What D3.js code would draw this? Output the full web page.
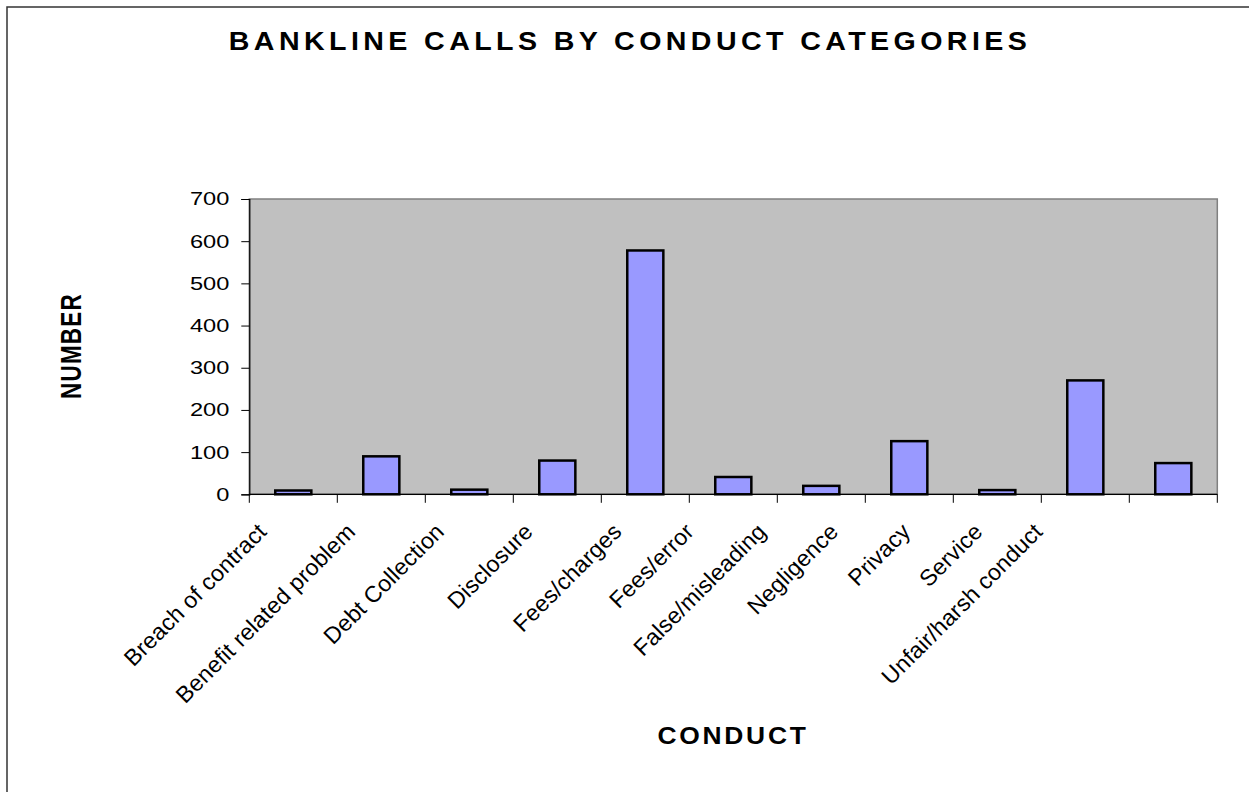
<!DOCTYPE html>
<html>
<head>
<meta charset="utf-8">
<title>Bankline calls by conduct categories</title>
<script src="https://d3js.org/d3.v7.min.js"></script>
<style>
  body { margin: 0; background: #fff; }
  text { font-family: "Liberation Sans", Arial, sans-serif; fill: #000; }
</style>
</head>
<body>
<div id="chart"></div>
<script>
// data
const categories = ["Breach of contract", "Benefit related problem", "Debt Collection", "Disclosure",
  "Fees/charges", "Fees/error", "False/misleading", "Negligence", "Privacy", "Service", "Unfair/harsh conduct"];
const values = [9, 90, 11, 80, 578, 41, 20, 126, 10, 270, 74];
const yTicks = [0, 100, 200, 300, 400, 500, 600, 700];

const W = 1249, H = 792;
const plot = {left: 249.3, right: 1217.3, top: 199, bottom: 494.3};
const stretch = 1.27; // the original digits are wide, like a picture pulled sideways

const svg = d3.select("#chart").append("svg")
    .attr("width", W).attr("height", H);

// outer frame (right/bottom run off the picture)
svg.append("rect")
    .attr("x", 7).attr("y", 7).attr("width", 1260).attr("height", 800)
    .attr("fill", "none").attr("stroke", "#333").attr("stroke-width", 1.5);

const x = d3.scaleBand().domain(categories).range([plot.left, plot.right]).padding(0);
const y = d3.scaleLinear().domain([0, 700]).range([plot.bottom, plot.top]);

// plot area
svg.append("rect")
    .attr("x", plot.left).attr("y", plot.top)
    .attr("width", plot.right - plot.left).attr("height", plot.bottom - plot.top)
    .attr("fill", "#c0c0c0").attr("stroke", "#808080").attr("stroke-width", 1.5);

// bars
const barW = x.bandwidth() * 0.41;
svg.selectAll("rect.bar")
  .data(values)
  .join("rect")
    .attr("class", "bar")
    .attr("x", (d, i) => x(categories[i]) + (x.bandwidth() - barW) / 2)
    .attr("y", d => y(d))
    .attr("width", barW)
    .attr("height", d => y(0) - y(d))
    .attr("fill", "#9999ff")
    .attr("stroke", "#000")
    .attr("stroke-width", 2.5);

// y axis
const yAxis = svg.append("g")
    .attr("transform", `translate(${plot.left},0)`)
    .call(d3.axisLeft(y).tickValues(yTicks).tickSize(8).tickPadding(12));
yAxis.select(".domain").attr("stroke", "#000").attr("stroke-width", 1.2);
yAxis.selectAll(".tick line").attr("stroke", "#000");
yAxis.selectAll(".tick text")
    .attr("x", null)
    .attr("transform", `translate(-20,0) scale(${stretch},1)`)
    .style("font-family", "'Liberation Sans', Arial, sans-serif")
    .style("font-size", "18.6px");

// x axis: ticks on category boundaries
const bounds = categories.map(c => x(c)).concat([plot.right]);
const xAxis = svg.append("g");
xAxis.append("line")
    .attr("x1", plot.left).attr("x2", plot.right)
    .attr("y1", plot.bottom).attr("y2", plot.bottom)
    .attr("stroke", "#000").attr("stroke-width", 1.2);
xAxis.selectAll("line.tk")
  .data(bounds)
  .join("line")
    .attr("class", "tk")
    .attr("x1", d => d).attr("x2", d => d)
    .attr("y1", plot.bottom).attr("y2", plot.bottom + 8.5)
    .attr("stroke", "#000");

// category labels: their ends drift left of the categories in the original
const labelX = d3.scaleLinear().domain([0, 4, 9, 10]).range([268, 623, 984, 1044]);
const labelY = 533;
xAxis.selectAll("text")
  .data(categories)
  .join("text")
    .attr("transform", (d, i) => `translate(${labelX(i)},${labelY}) rotate(-45)`)
    .attr("text-anchor", "end")
    .style("font-size", "23px")
    .style("letter-spacing", "0.2px")
    .text(d => d);

// titles
svg.append("text")
    .attr("transform", "translate(630,50) scale(1.1,1)")
    .attr("text-anchor", "middle")
    .style("font-size", "26px").style("font-weight", "bold")
    .style("letter-spacing", "4px")
    .text("BANKLINE CALLS BY CONDUCT CATEGORIES");

svg.append("text")
    .attr("transform", "translate(733,744) scale(1.1,1)")
    .attr("text-anchor", "middle")
    .style("font-size", "24px").style("font-weight", "bold")
    .style("letter-spacing", "2.5px")
    .text("CONDUCT");

svg.append("text")
    .attr("transform", `translate(80.5,346) rotate(-90) scale(1,${stretch})`)
    .attr("text-anchor", "middle")
    .style("font-size", "22.5px").style("font-weight", "bold")
    .style("letter-spacing", "1.2px")
    .text("NUMBER");
</script>
</body>
</html>
